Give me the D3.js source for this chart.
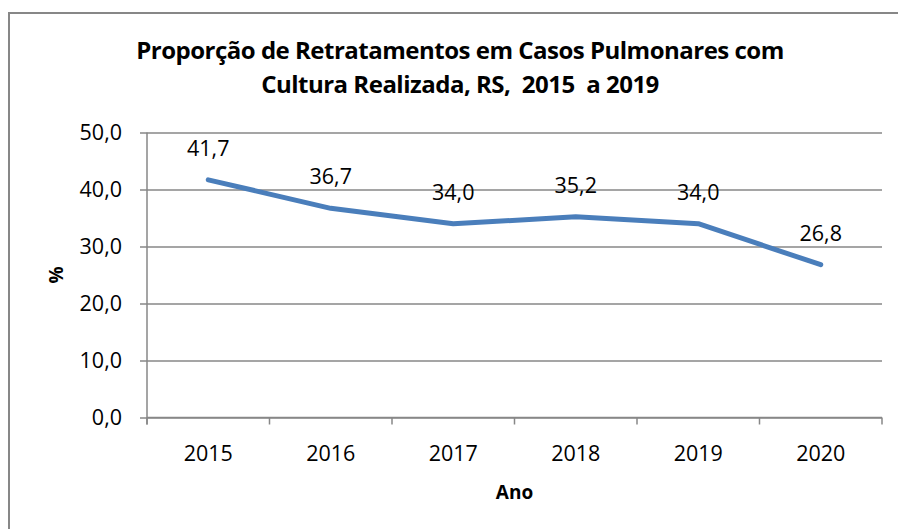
<!DOCTYPE html>
<html>
<head>
<meta charset="utf-8">
<script src="https://cdn.jsdelivr.net/npm/d3@7"></script>
<style>
  body { margin: 0; background: #fff; }
  svg { display: block; font-family: 'Open Sans', sans-serif; }
</style>
</head>
<body>
<svg id="chart"></svg>
<script>
const years = ['2015', '2016', '2017', '2018', '2019', '2020'];
const proportions = [41.7, 36.7, 34.0, 35.2, 34.0, 26.8];
const yTicks = [0, 10, 20, 30, 40, 50];
const titleLines = ['Proporção de Retratamentos em Casos Pulmonares com', 'Cultura Realizada, RS,  2015  a 2019'];

const width = 898;
const height = 529;
const plot = { left: 147, right: 882, top: 132.5, bottom: 417.5 };
const gray = '#878787';
const fmt = v => v.toFixed(1).replace('.', ',');

const svg = d3.select('#chart').attr('width', width).attr('height', height);

// outer frame (right/bottom fall outside the picture)
svg.append('rect')
  .attr('x', 9).attr('y', 13)
  .attr('width', 900).attr('height', 530)
  .attr('fill', '#fff')
  .attr('stroke', gray)
  .attr('stroke-width', 2);

const x = d3.scaleBand().domain(years).range([plot.left, plot.right]).padding(0);
const y = d3.scaleLinear().domain([0, 50]).range([plot.bottom, plot.top]);

// gridlines
svg.append('g')
  .attr('transform', `translate(${plot.left},0)`)
  .call(d3.axisLeft(y).tickValues(yTicks).tickSize(-(plot.right - plot.left)).tickFormat(''))
  .call(g => g.select('.domain').remove())
  .call(g => g.selectAll('line').attr('stroke', gray).attr('stroke-width', 1.5));

// y axis
svg.append('g')
  .attr('transform', `translate(${plot.left},0)`)
  .call(d3.axisLeft(y).tickValues(yTicks).tickSize(7).tickPadding(18).tickFormat(fmt))
  .call(g => g.select('.domain').attr('stroke', gray).attr('stroke-width', 1.5)
    .attr('d', `M0,${plot.top}V${plot.bottom + 7}`))
  .call(g => g.selectAll('line').attr('stroke', gray).attr('stroke-width', 1.5))
  .call(g => g.selectAll('text').attr('font-size', 21.5).attr('fill', '#000')
    .attr('font-family', "'Open Sans', sans-serif"));

// x axis: ticks at category boundaries
const xAxis = svg.append('g').attr('transform', `translate(0,${plot.bottom})`);
xAxis.append('path')
  .attr('d', `M${plot.left},0H${plot.right}`)
  .attr('stroke', gray).attr('stroke-width', 1.5);
xAxis.selectAll('line.tick')
  .data(years.concat(['end']))
  .join('line')
  .attr('x1', (d, i) => (i < years.length ? x(d) : plot.right))
  .attr('x2', (d, i) => (i < years.length ? x(d) : plot.right))
  .attr('y1', 0).attr('y2', 7)
  .attr('stroke', gray).attr('stroke-width', 1.5);
xAxis.selectAll('text')
  .data(years)
  .join('text')
  .attr('x', d => x(d) + x.bandwidth() / 2)
  .attr('y', 43)
  .attr('text-anchor', 'middle')
  .attr('font-size', 21.5)
  .text(d => d);

// line
const pts = years.map((d, i) => ({ year: d, value: proportions[i] }));
const line = d3.line()
  .x(d => x(d.year) + x.bandwidth() / 2)
  .y(d => y(d.value));

svg.append('path')
  .datum(pts)
  .attr('d', line)
  .attr('fill', 'none')
  .attr('stroke', '#4A7EBB')
  .attr('stroke-width', 5)
  .attr('stroke-linejoin', 'round')
  .attr('stroke-linecap', 'round');

// data labels
svg.append('g')
  .selectAll('text')
  .data(pts)
  .join('text')
  .attr('x', d => x(d.year) + x.bandwidth() / 2)
  .attr('y', d => y(d.value) - 24)
  .attr('text-anchor', 'middle')
  .attr('font-size', 21.5)
  .text(d => fmt(d.value));

// title
svg.append('g')
  .selectAll('text')
  .data(titleLines)
  .join('text')
  .attr('x', 460)
  .attr('y', (d, i) => 59 + i * 34)
  .attr('text-anchor', 'middle')
  .attr('font-size', 24)
  .attr('font-weight', 'bold')
  .attr('letter-spacing', -0.5)
  .style('white-space', 'pre')
  .text(d => d);

// axis titles
svg.append('text')
  .attr('x', (plot.left + plot.right) / 2)
  .attr('y', 499)
  .attr('text-anchor', 'middle')
  .attr('font-size', 19)
  .attr('font-weight', 'bold')
  .text('Ano');

svg.append('text')
  .attr('transform', `translate(63,${(plot.top + plot.bottom) / 2}) rotate(-90)`)
  .attr('text-anchor', 'middle')
  .attr('font-size', 19)
  .attr('font-weight', 'bold')
  .text('%');
</script>
</body>
</html>
